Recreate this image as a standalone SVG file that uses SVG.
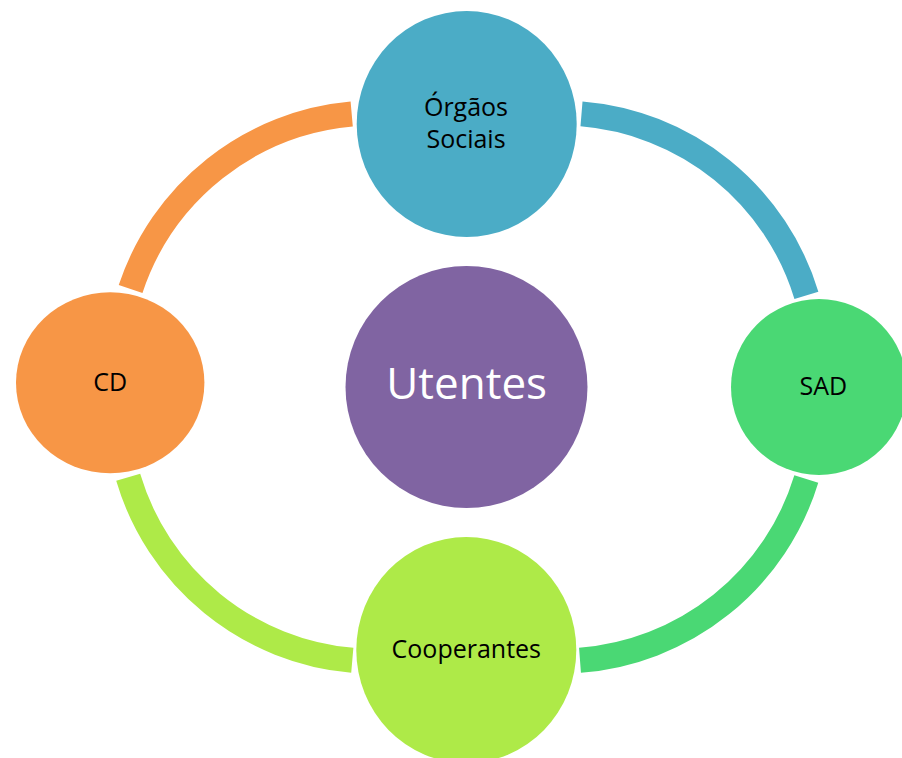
<svg xmlns="http://www.w3.org/2000/svg" width="902" height="758" viewBox="0 0 902 758">
<style>
.arc{fill:none;stroke-width:25;stroke-linecap:butt}
.lbl{font-family:"Open Sans","Liberation Sans",sans-serif;font-size:25px;fill:#000;text-anchor:middle}
.big{font-family:"Open Sans","Liberation Sans",sans-serif;font-size:44px;fill:#fff;text-anchor:middle}
</style>
<rect width="902" height="758" fill="#fff"/>
<g id="connectors">
<path class="arc" stroke="#4BACC6" d="M 581.5 113.9 A 257 257 0 0 1 806.4 295.3"/>
<path class="arc" stroke="#4AD874" d="M 806.3 479 A 257 257 0 0 1 580 660.3"/>
<path class="arc" stroke="#AEEA48" d="M 352.3 660.3 A 257 257 0 0 1 128.2 477.3"/>
<path class="arc" stroke="#F79646" d="M 130.6 289 A 257 257 0 0 1 351.7 114"/>
</g>
<g id="node-utentes">
<circle cx="466.5" cy="387" r="121" fill="#8064A2"/>
<text class="big" x="466.7" y="399.3">Utentes</text>
</g>
<g id="node-orgaos">
<ellipse cx="466.7" cy="124" rx="110" ry="113" fill="#4BACC6"/>
<text class="lbl" x="466" y="115.7">Órgãos</text>
<text class="lbl" x="466" y="147.7">Sociais</text>
</g>
<g id="node-sad">
<circle cx="819" cy="387" r="88" fill="#4AD874"/>
<text class="lbl" x="823.3" y="395">SAD</text>
</g>
<g id="node-cooperantes">
<ellipse cx="466.3" cy="650" rx="110" ry="113" fill="#AEEA48"/>
<text class="lbl" x="466.3" y="657.7">Cooperantes</text>
</g>
<g id="node-cd">
<ellipse cx="110.2" cy="382.8" rx="94.2" ry="90.5" fill="#F79646"/>
<text class="lbl" x="110.3" y="391">CD</text>
</g>
</svg>
